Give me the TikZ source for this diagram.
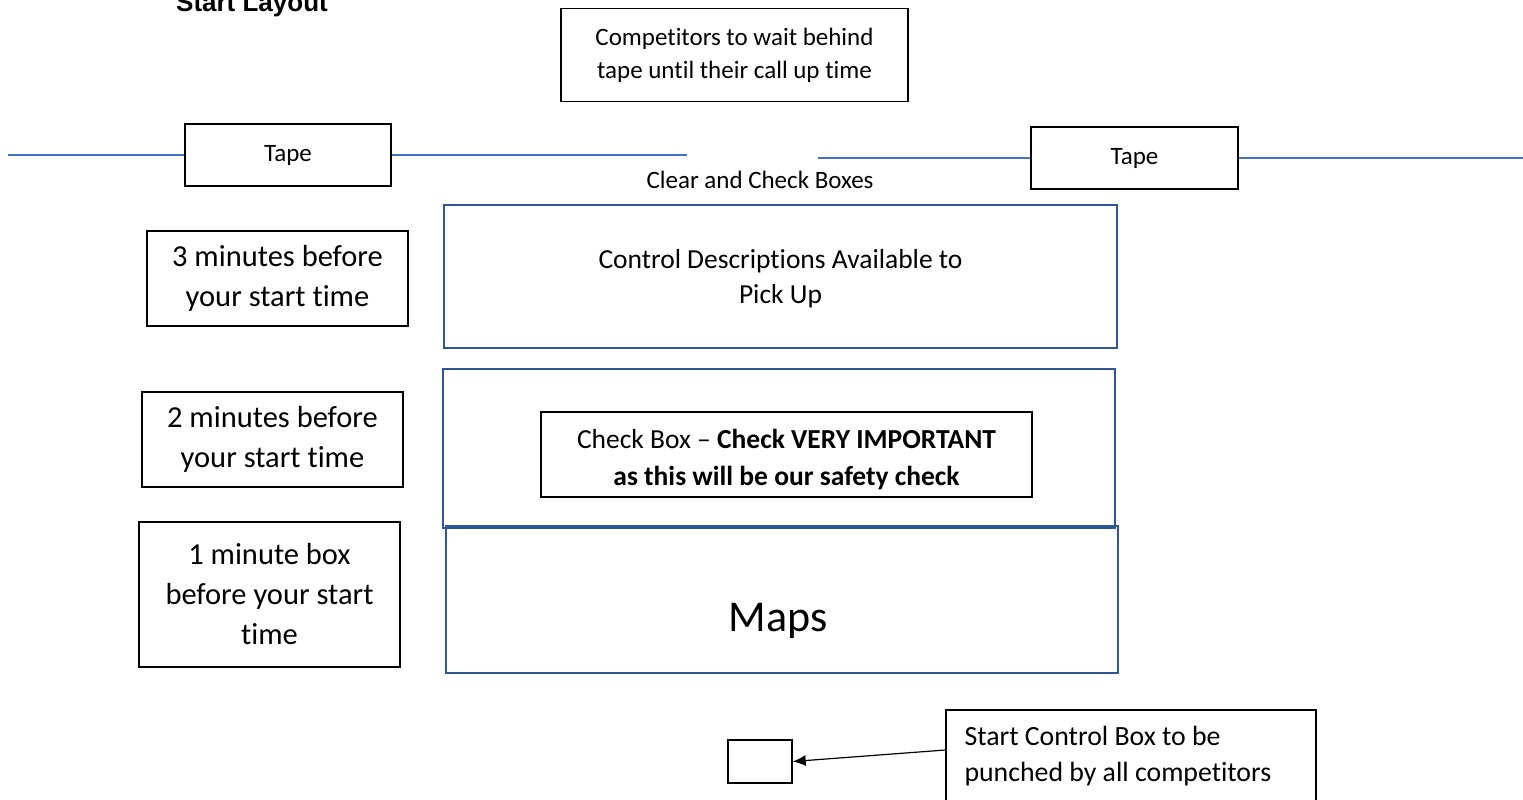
\documentclass[tikz,border=0pt]{standalone}
\usepackage{fontspec}
\setmainfont[Ligatures=NoCommon]{Carlito}
\newfontfamily\titlefont{Liberation Sans}
\usetikzlibrary{arrows.meta}
\definecolor{tapeblue}{HTML}{4472C4}
\definecolor{boxblue}{HTML}{2F5597}
\begin{document}
\begin{tikzpicture}[x=1pt,y=-1pt,
                    box/.style={draw,line width=1.4pt,inner sep=0pt,align=center},
                    bluebox/.style={draw=boxblue,line width=2pt,inner sep=0pt,align=center},
                    tapeline/.style={draw=tapeblue,line width=1.2pt},
                    small/.style={font=\fontsize{25}{33}\selectfont},
                    mid/.style={align=center,font=\fontsize{27.5}{36}\selectfont},
                    big/.style={font=\fontsize{30.5}{40}\selectfont}
                   ]
   \useasboundingbox (0,0) rectangle (1523,800);
   \node[anchor=base,font=\titlefont\bfseries\fontsize{26}{30}\selectfont] (title) at (252,12) {Start Layout};
   \node[box,small,minimum width=347pt,minimum height=93pt] (comp) at (734.5,55) {Competitors to wait behind\\tape until their call up time};
   % tape either side of the clear and check boxes
   \node[box,small,minimum width=206pt,minimum height=62pt] (tapeL) at (288,155) {Tape};
   \node[box,small,minimum width=207pt,minimum height=62pt] (tapeR) at (1134.5,158) {Tape};
   \coordinate (lA) at (8,155);
   \coordinate (lB) at (687,155);
   \coordinate (rA) at (818,158);
   \coordinate (rB) at (1523,158);
   \path[tapeline] (lA) -- (tapeL) (tapeL) -- (lB);
   \path[tapeline] (rA) -- (tapeR) (tapeR) -- (rB);
   \node[small] (clear) at (760,180) {Clear and Check Boxes};
   % times on the left
   \node[box,big,minimum width=261pt,minimum height=95pt] (min3) at (277.5,278.5) {3 minutes before\\your start time};
   \node[box,big,minimum width=261pt,minimum height=95pt] (min2) at (272.5,439.5) {2 minutes before\\your start time};
   \node[box,big,minimum width=261pt,minimum height=145pt] (min1) at (269.5,594.5) {1 minute box\\before your start\\time};
   % the boxes
   \node[bluebox,minimum width=673pt,minimum height=143pt] (descr) at (780.5,276.5) {};
   \node[mid,font=\fontsize{27.5}{35}\selectfont] (descrText) at (780.5,279) {Control Descriptions Available to\\Pick Up};
   \node[bluebox,minimum width=672pt,minimum height=159pt] (check) at (779,448.5) {};
   \node[box,minimum width=491pt,minimum height=85pt] (checkIn) at (786.5,454.5) {};
   \node[mid,font=\fontsize{27.5}{37}\selectfont] (checkText) at (786.5,460) {Check Box -- \textbf{Check VERY IMPORTANT}\\\textbf{as this will be our safety check}};
   \node[bluebox,minimum width=672pt,minimum height=147pt] (maps) at (782,599.5) {};
   \node[font=\fontsize{44}{50}\selectfont] (mapsText) at (778,621) {Maps};
   % start control
   \node[box,minimum width=64pt,minimum height=43pt] (punch) at (760,761.5) {};
   \node[box,minimum width=370pt,minimum height=110pt] (ctrl) at (1131,765) {};
   \node[anchor=north west,align=left,font=\fontsize{27.8}{36}\selectfont] (ctrlText) at (961,723) {Start Control Box to be\\punched by all competitors};
   \draw[line width=1.2pt,-{Latex[length=13pt,width=11pt]}] ([yshift=15pt]ctrl.west) -- (punch.east);
\end{tikzpicture}
\end{document}
